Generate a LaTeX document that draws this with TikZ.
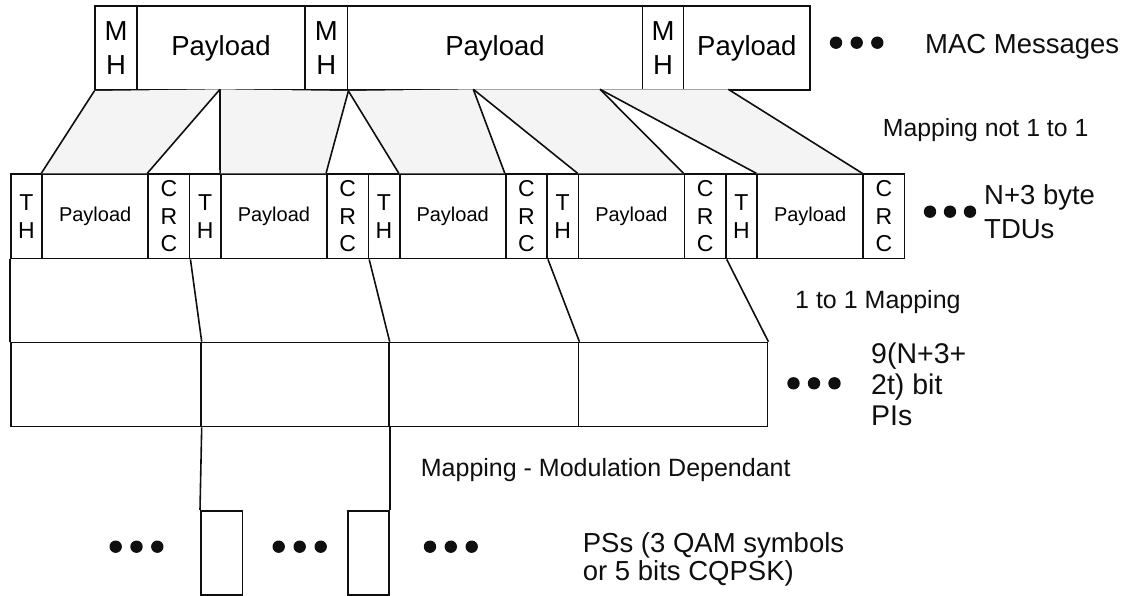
\documentclass[tikz,border=0pt]{standalone}
\usepackage{fontspec}
\setmainfont{Liberation Sans}
\definecolor{mapfill}{RGB}{244,244,244}
\definecolor{ink}{RGB}{15,15,15}
\tikzset{
  cell/.style={draw=ink, line width=1.7pt, inner sep=0pt, anchor=north west, align=center},
  macrow/.style={cell, minimum height=84.3pt, font=\fontsize{27.5}{33.5}\selectfont},
  tdurow/.style={cell, minimum height=84.4pt},
  hdrtxt/.style={font=\fontsize{23}{27.5}\selectfont},
  paytxt/.style={font=\fontsize{20}{24}\selectfont},
  pirow/.style={cell, minimum height=84pt},
  psbox/.style={cell, minimum height=84pt},
  lbl/.style={anchor=base west, inner sep=0pt, text=ink},
  link/.style={draw=ink, line width=1.6pt},
  bigdot/.style={fill=ink}
}
\begin{document}
\begin{tikzpicture}[x=1pt,y=-1pt]
\useasboundingbox (0,0) rectangle (1128,596);

% ---- MAC messages row
\node[macrow, minimum width=41.7pt]  (mh1) at (94.3,5)  {M\\H};
\node[macrow, minimum width=168.3pt] (mp1) at (136,5)   {Payload};
\node[macrow, minimum width=42.4pt]  (mh2) at (304.3,5) {M\\H};
\node[macrow, minimum width=295pt]   (mp2) at (346.7,5) {Payload};
\node[macrow, minimum width=41pt]    (mh3) at (641.7,5) {M\\H};
\node[macrow, minimum width=126.6pt] (mp3) at (682.7,5) {Payload};

% ---- TDU row
\foreach \i in {1,...,5}{
  \pgfmathsetmacro{\L}{10+178.75*(\i-1)}
  \node[tdurow, hdrtxt, minimum width=31.3pt] (th\i) at (\L,173.3) {T\\H};
  \node[tdurow, paytxt, minimum width=106pt] (tp\i) at (\L+31.3,173.3) {Payload};
  \node[tdurow, hdrtxt, minimum width=41.45pt] (tc\i) at (\L+137.3,173.3) {C\\R\\C};
}

% ---- mapping points on MAC bottom
\coordinate (a0) at (mh1.south west);
\coordinate (a1) at (220,89.3);
\coordinate (a2) at (mh2.south east);
\coordinate (a3) at (473.3,89.3);
\coordinate (a4) at (600,89.3);
\coordinate (a5) at (728.3,89.3);

% grey mapping areas
\fill[mapfill] (a0) -- (a1) -- (tc1.north west) -- (tp1.north west) -- cycle;
\fill[mapfill] (a1) -- (a2) -- (tc2.north west) -- (tp2.north west) -- cycle;
\fill[mapfill] (a2) -- (a3) -- (tc3.north west) -- (tp3.north west) -- cycle;
\fill[mapfill] (a3) -- (a4) -- (tc4.north west) -- (tp4.north west) -- cycle;
\fill[mapfill] (a4) -- (a5) -- (tc5.north west) -- (tp5.north west) -- cycle;

\draw[link] (a0) -- (tp1.north west);
\draw[link] (a1) -- (tc1.north west);
\draw[link] (a1) -- (tp2.north west);
\draw[link] (a2) -- (tc2.north west);
\draw[link] (a2) -- (tp3.north west);
\draw[link] (a3) -- (tc3.north west);
\draw[link] (a3) -- (tp4.north west);
\draw[link] (a4) -- (tc4.north west);
\draw[link] (a4) -- (tp5.north west);
\draw[link] (a5) -- (tc5.north west);

% ---- PI row
\node[pirow, minimum width=190pt]   (pi1) at (10,341.7)    {};
\node[pirow, minimum width=188pt]   (pi2) at (200,341.7)   {};
\node[pirow, minimum width=189.7pt] (pi3) at (388,341.7)   {};
\node[pirow, minimum width=189pt]   (pi4) at (577.7,341.7) {};

\draw[link] (th1.south west) -- (pi1.north west);
\draw[link] (tc1.south east) -- (pi1.north east);
\draw[link] (tc2.south east) -- (pi2.north east);
\draw[link] (tc3.south east) -- (pi3.north east);
\draw[link] (tc4.south east) -- (pi4.north east);

% ---- PS boxes
\node[psbox, minimum width=41.7pt] (ps1) at (200,510) {};
\node[psbox, minimum width=41pt]   (ps2) at (347,510) {};
\draw[link] (pi1.south east) -- (ps1.north west);
\draw[link] (pi2.south east) -- (ps2.north east);

% ---- ellipsis dots
\foreach \x in {836,856.7,877.3}{\fill[bigdot] (\x,42.7) circle (6.2pt);}
\foreach \x in {930,950,970}{\fill[bigdot] (\x,211.7) circle (6.2pt);}
\foreach \x in {793.5,814,834.5}{\fill[bigdot] (\x,383.3) circle (6.2pt);}
\foreach \x in {115.7,136.5,157.3}{\fill[bigdot] (\x,546.7) circle (6.2pt);}
\foreach \x in {278.7,299.7,320.7}{\fill[bigdot] (\x,546.7) circle (6.2pt);}
\foreach \x in {430,450.8,471.7}{\fill[bigdot] (\x,546.7) circle (6.2pt);}

% ---- labels
\node[lbl, font=\fontsize{27.5}{33}\selectfont] (lmac) at (925,53.3) {MAC Messages};
\node[lbl, font=\fontsize{24.8}{30}\selectfont] (lmap1) at (882.7,136.7) {Mapping not 1 to 1};
\node[lbl, font=\fontsize{27.5}{33}\selectfont] (ltdu1) at (984,205) {N+3 byte};
\node[lbl, font=\fontsize{27.5}{33}\selectfont] (ltdu2) at (984,238.3) {TDUs};
\node[lbl, font=\fontsize{25}{30}\selectfont] (lmap2) at (795,308.3) {1 to 1 Mapping};
\node[lbl, font=\fontsize{28.5}{33}\selectfont] (lpi1) at (871,363.5) {9(N+3+};
\node[lbl, font=\fontsize{28.5}{33}\selectfont] (lpi2) at (871,394.5) {2t) bit};
\node[lbl, font=\fontsize{28.5}{33}\selectfont] (lpi3) at (871,425.5) {PIs};
\node[lbl, font=\fontsize{25}{30}\selectfont] (lmap3) at (420.7,476.7) {Mapping - Modulation Dependant};
\node[lbl, font=\fontsize{27.5}{33}\selectfont] (lps1) at (582.7,552) {PSs (3 QAM symbols};
\node[lbl, font=\fontsize{27.5}{33}\selectfont] (lps2) at (582.7,580) {or 5 bits CQPSK)};
\end{tikzpicture}
\end{document}
